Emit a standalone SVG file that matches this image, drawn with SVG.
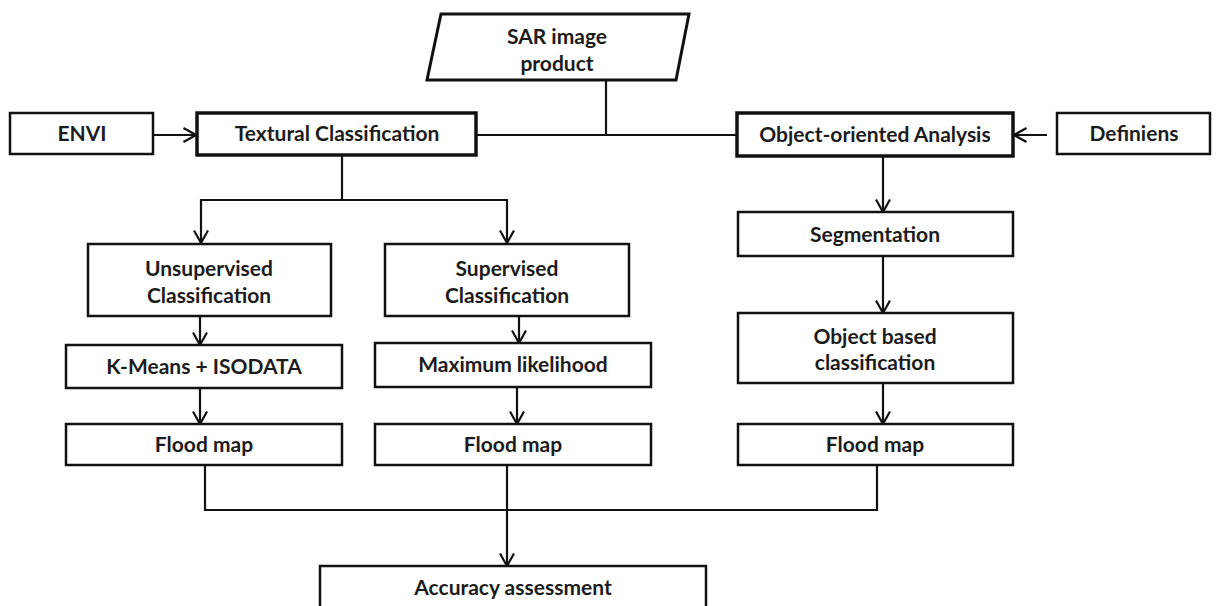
<svg xmlns="http://www.w3.org/2000/svg" width="1221" height="606" viewBox="0 0 1221 606">
<style>
.box{fill:#fff;stroke:#111;stroke-width:2.5}
.thick{stroke-width:3.5}
.t{font-family:Lato,"Liberation Sans",Arial,sans-serif;font-weight:bold;font-size:21px;fill:#1c1c1c;text-anchor:middle}
.c{fill:none;stroke:#111;stroke-width:2.2}
</style>
<defs>
<marker id="ah" markerUnits="userSpaceOnUse" markerWidth="16" markerHeight="16" viewBox="0 0 16 16" refX="14" refY="8" orient="auto">
<path d="M1.5,1 L14,8 L1.5,15" fill="none" stroke="#111" stroke-width="2.2"/>
</marker>
</defs>
<rect width="1221" height="606" fill="#fff"/>
<g id="connectors">
<polyline class="c" points="606,80 606,135"/>
<line class="c" x1="476" y1="135" x2="737" y2="135"/>
<line class="c" x1="153" y1="135" x2="196" y2="135" marker-end="url(#ah)"/>
<line class="c" x1="1047" y1="135" x2="1014" y2="135" marker-end="url(#ah)"/>
<line class="c" x1="342" y1="155" x2="342" y2="200"/>
<line class="c" x1="200" y1="200" x2="507" y2="200"/>
<line class="c" x1="201" y1="199" x2="201" y2="243" marker-end="url(#ah)"/>
<line class="c" x1="507" y1="199" x2="507" y2="243" marker-end="url(#ah)"/>
<line class="c" x1="200" y1="316" x2="200" y2="345" marker-end="url(#ah)"/>
<line class="c" x1="519" y1="316" x2="519" y2="343" marker-end="url(#ah)"/>
<line class="c" x1="200" y1="388" x2="200" y2="424" marker-end="url(#ah)"/>
<line class="c" x1="517" y1="387" x2="517" y2="424" marker-end="url(#ah)"/>
<line class="c" x1="883" y1="157" x2="883" y2="212" marker-end="url(#ah)"/>
<line class="c" x1="883" y1="256" x2="883" y2="313" marker-end="url(#ah)"/>
<line class="c" x1="883" y1="383" x2="883" y2="424" marker-end="url(#ah)"/>
<polyline class="c" points="205,465 205,510 877,510 877,465"/>
<line class="c" x1="507" y1="465" x2="507" y2="566" marker-end="url(#ah)"/>
</g>
<g id="sar">
<polygon class="box" style="stroke-width:3" points="441,14 689,14 676,80 427,80"/>
<text class="t" x="557" y="44">SAR image</text>
<text class="t" x="557" y="71">product</text>
</g>
<g id="envi">
<rect class="box" x="10" y="113" width="143" height="41"/>
<text class="t" x="82" y="141">ENVI</text>
</g>
<g id="textural">
<rect class="box thick" x="197" y="113" width="279" height="42"/>
<text class="t" x="337" y="141">Textural Classification</text>
</g>
<g id="object-oriented">
<rect class="box thick" x="737" y="113" width="276" height="43"/>
<text class="t" x="875" y="142">Object-oriented Analysis</text>
</g>
<g id="definiens">
<rect class="box" x="1057" y="113" width="153" height="41"/>
<text class="t" x="1134" y="141">Definiens</text>
</g>
<g id="unsupervised">
<rect class="box" x="88" y="244" width="243" height="72"/>
<text class="t" x="209" y="276">Unsupervised</text>
<text class="t" x="209" y="303">Classification</text>
</g>
<g id="supervised">
<rect class="box" x="385" y="244" width="244" height="72"/>
<text class="t" x="507" y="276">Supervised</text>
<text class="t" x="507" y="303">Classification</text>
</g>
<g id="kmeans">
<rect class="box" x="66" y="345" width="276" height="43"/>
<text class="t" x="204" y="374">K-Means + ISODATA</text>
</g>
<g id="maxlik">
<rect class="box" x="375" y="343" width="276" height="44"/>
<text class="t" x="513" y="372">Maximum likelihood</text>
</g>
<g id="segmentation">
<rect class="box" x="738" y="212" width="275" height="44"/>
<text class="t" x="875" y="242">Segmentation</text>
</g>
<g id="objectbased">
<rect class="box" x="738" y="313" width="275" height="70"/>
<text class="t" x="875" y="344">Object based</text>
<text class="t" x="875" y="370">classification</text>
</g>
<g id="flood1">
<rect class="box" x="66" y="424" width="276" height="41"/>
<text class="t" x="204" y="452">Flood map</text>
</g>
<g id="flood2">
<rect class="box" x="375" y="424" width="276" height="41"/>
<text class="t" x="513" y="452">Flood map</text>
</g>
<g id="flood3">
<rect class="box" x="738" y="424" width="275" height="41"/>
<text class="t" x="875" y="452">Flood map</text>
</g>
<g id="accuracy">
<rect class="box" x="320" y="566" width="386" height="50"/>
<text class="t" x="513" y="595">Accuracy assessment</text>
</g>
</svg>
